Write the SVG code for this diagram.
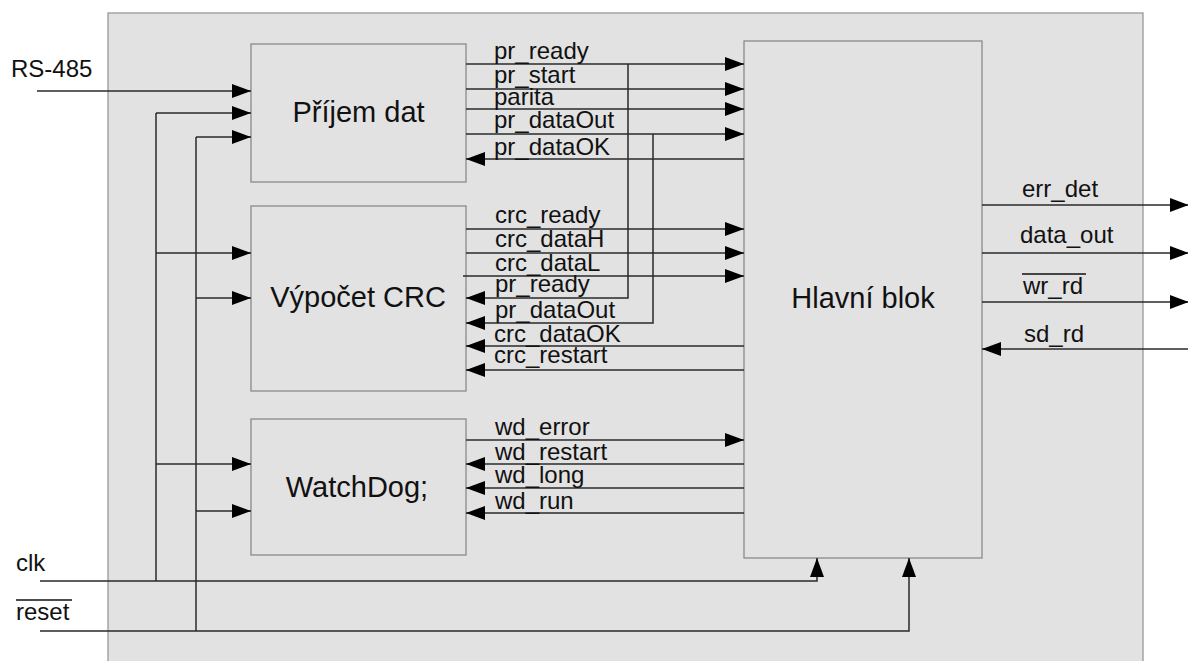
<svg xmlns="http://www.w3.org/2000/svg" width="1188" height="661" viewBox="0 0 1188 661">
<style>
text{font-family:"Liberation Sans",Arial,sans-serif;fill:#111}
.big{font-size:29px;text-anchor:middle}
.sig{font-size:24px}
.blk{fill:#e2e2e2;stroke:#8a8a8a;stroke-width:1.3}
.w{fill:none;stroke:#2a2a2a;stroke-width:1.5}
.a{marker-end:url(#ah)}
.ol{stroke:#111;stroke-width:1.6}
</style>
<defs>
<marker id="ah" markerUnits="userSpaceOnUse" markerWidth="20" markerHeight="16" refX="19" refY="7" orient="auto">
<path d="M0,0 L19,7 L0,14 z" fill="#000"/>
</marker>
</defs>
<rect x="0" y="0" width="1188" height="661" fill="#fff"/>
<rect id="frame" x="108" y="13" width="1035" height="660" fill="#e2e2e2" stroke="#999" stroke-width="1.3"/>

<g id="prijem">
<rect class="blk" x="251" y="44" width="215" height="138"/>
<text class="big" x="358.5" y="122">Příjem dat</text>
</g>
<g id="crc">
<rect class="blk" x="251" y="206" width="215" height="185"/>
<text class="big" x="358" y="307">Výpočet CRC</text>
</g>
<g id="watchdog">
<rect class="blk" x="251" y="419" width="215" height="136"/>
<text class="big" x="357" y="497">WatchDog;</text>
</g>
<g id="hlavni">
<rect class="blk" x="744" y="41" width="238" height="517"/>
<text class="big" x="863" y="308">Hlavní blok</text>
</g>

<g id="connectors">
<path class="w a" d="M37,91 H251"/>
<path class="w a" d="M40,581 H817 V558"/>
<path class="w a" d="M40,631 H909 V558"/>
<path class="w" d="M156,113 V581"/>
<path class="w" d="M196,137 V631"/>
<path class="w a" d="M156,113 H251"/>
<path class="w a" d="M156,253 H251"/>
<path class="w a" d="M156,464 H251"/>
<path class="w a" d="M196,137 H251"/>
<path class="w a" d="M196,298 H251"/>
<path class="w a" d="M196,511 H251"/>

<path class="w a" d="M466,64 H744"/>
<path class="w a" d="M466,89 H744"/>
<path class="w a" d="M466,109 H744"/>
<path class="w a" d="M466,134 H744"/>
<path class="w a" d="M744,159 H466"/>
<path class="w a" d="M628,64 V298 H466"/>
<path class="w a" d="M653,134 V323 H466"/>
<path class="w a" d="M466,229 H744"/>
<path class="w a" d="M466,253 H744"/>
<path class="w a" d="M463,276 H744"/>
<path class="w a" d="M744,346 H466"/>
<path class="w a" d="M744,370 H466"/>
<path class="w a" d="M466,440 H744"/>
<path class="w a" d="M744,464 H466"/>
<path class="w a" d="M744,488 H466"/>
<path class="w a" d="M744,513 H466"/>

<path class="w a" d="M982,205 H1189"/>
<path class="w a" d="M982,253 H1189"/>
<path class="w a" d="M982,302 H1189"/>
<path class="w a" d="M1188,349 H982"/>
</g>

<g id="labels">
<text class="sig" x="11" y="77">RS-485</text>
<text class="sig" x="16" y="571">clk</text>
<text class="sig" x="16" y="620">reset</text>
<line class="ol" x1="16" y1="600" x2="72" y2="600"/>

<text class="sig" x="494" y="59">pr_ready</text>
<text class="sig" x="494" y="83">pr_start</text>
<text class="sig" x="494" y="105">parita</text>
<text class="sig" x="494" y="128">pr_dataOut</text>
<text class="sig" x="494" y="155">pr_dataOK</text>

<text class="sig" x="495" y="223">crc_ready</text>
<text class="sig" x="495" y="247">crc_dataH</text>
<text class="sig" x="495" y="271">crc_dataL</text>
<text class="sig" x="495" y="292">pr_ready</text>
<text class="sig" x="495" y="318">pr_dataOut</text>
<text class="sig" x="494" y="342">crc_dataOK</text>
<text class="sig" x="494" y="363">crc_restart</text>

<text class="sig" x="495" y="435">wd_error</text>
<text class="sig" x="495" y="460">wd_restart</text>
<text class="sig" x="495" y="483">wd_long</text>
<text class="sig" x="495" y="509">wd_run</text>

<text class="sig" x="1022" y="197">err_det</text>
<text class="sig" x="1020" y="243">data_out</text>
<text class="sig" x="1023" y="294">wr_rd</text>
<line class="ol" x1="1022" y1="274" x2="1086" y2="274"/>
<text class="sig" x="1024" y="342">sd_rd</text>
</g>
</svg>
